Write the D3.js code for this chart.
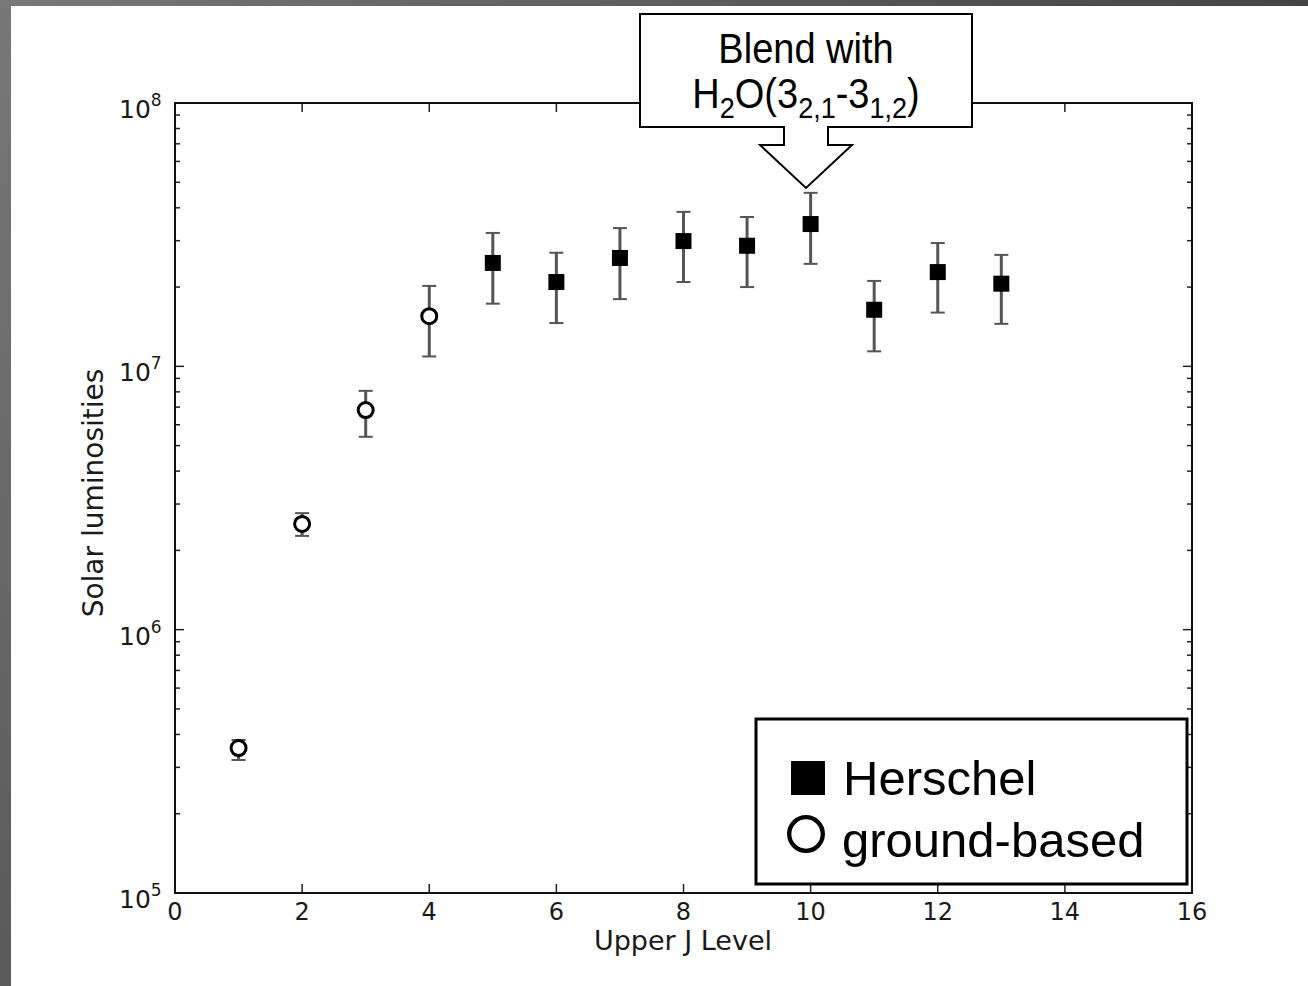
<!DOCTYPE html>
<html>
<head>
<meta charset="utf-8">
<script src="https://cdn.jsdelivr.net/npm/d3@7"></script>
<style>
  body { margin: 0; background: #fff; }
  svg { display: block; }
  .tick-label { font-family: "DejaVu Sans", sans-serif; fill: #1a1a1a; }
  .callout, .legend-text { font-family: "Liberation Sans", Arial, sans-serif; fill: #000; }
</style>
</head>
<body>
<div id="chart"></div>
<script>
// data
let hJ = [5, 6, 7, 8, 9, 10, 11, 12, 13];
let hVal = [2.47e7, 2.09e7, 2.58e7, 2.99e7, 2.87e7, 3.47e7, 1.64e7, 2.28e7, 2.06e7];
let hHi = [3.21e7, 2.70e7, 3.35e7, 3.86e7, 3.69e7, 4.56e7, 2.11e7, 2.94e7, 2.65e7];
let hLo = [1.73e7, 1.46e7, 1.80e7, 2.09e7, 2.00e7, 2.45e7, 1.14e7, 1.60e7, 1.45e7];

let gJ = [1, 2, 3, 4];
let gVal = [3.55e5, 2.52e6, 6.82e6, 1.55e7];
let gHi = [3.81e5, 2.77e6, 8.07e6, 2.02e7];
let gLo = [3.20e5, 2.27e6, 5.40e6, 1.09e7];

let xTicks = [0, 2, 4, 6, 8, 10, 12, 14, 16];
let yExp = [5, 6, 7, 8];

let W = 1308, H = 986;
let plotL = 175, plotR = 1192, plotT = 103, plotB = 893;

let svg = d3.select("#chart").append("svg")
    .attr("width", W)
    .attr("height", H);

// grey frame at left and top edges
let defs = svg.append("defs");
let gv = defs.append("linearGradient").attr("id", "gv").attr("x1", 0).attr("y1", 0).attr("x2", 0).attr("y2", 1);
gv.append("stop").attr("offset", "0%").attr("stop-color", "#787878");
gv.append("stop").attr("offset", "100%").attr("stop-color", "#5a5a5a");
let gh = defs.append("linearGradient").attr("id", "gh").attr("x1", 0).attr("y1", 0).attr("x2", 1).attr("y2", 0);
gh.append("stop").attr("offset", "0%").attr("stop-color", "#787878");
gh.append("stop").attr("offset", "100%").attr("stop-color", "#444");
svg.append("rect").attr("x", 0).attr("y", 0).attr("width", W).attr("height", 6).attr("fill", "url(#gh)");
svg.append("rect").attr("x", 0).attr("y", 0).attr("width", 11).attr("height", H).attr("fill", "url(#gv)");

let xScale = d3.scaleLinear().domain([0, 16]).range([plotL, plotR]);
let yScale = d3.scaleLog().domain([1e5, 1e8]).range([plotB, plotT]);

// minor log ticks
let minor = [];
for (let e = 5; e < 8; ++e) {
    for (let m = 2; m <= 9; ++m) minor.push(m * Math.pow(10, e));
}

let ticks = svg.append("g").attr("stroke", "#222").attr("stroke-width", 1.5);
for (let v of minor) {
    let y = yScale(v);
    ticks.append("line").attr("x1", plotL).attr("x2", plotL + 5).attr("y1", y).attr("y2", y);
    ticks.append("line").attr("x1", plotR).attr("x2", plotR - 5).attr("y1", y).attr("y2", y);
}
for (let e of yExp) {
    let y = yScale(Math.pow(10, e));
    ticks.append("line").attr("x1", plotL).attr("x2", plotL + 9).attr("y1", y).attr("y2", y);
    ticks.append("line").attr("x1", plotR).attr("x2", plotR - 9).attr("y1", y).attr("y2", y);
}
for (let t of xTicks) {
    let x = xScale(t);
    ticks.append("line").attr("x1", x).attr("x2", x).attr("y1", plotB).attr("y2", plotB - 9);
    ticks.append("line").attr("x1", x).attr("x2", x).attr("y1", plotT).attr("y2", plotT + 9);
}

// frame
svg.append("rect")
    .attr("x", plotL).attr("y", plotT)
    .attr("width", plotR - plotL).attr("height", plotB - plotT)
    .attr("fill", "none").attr("stroke", "#111").attr("stroke-width", 2);

// tick labels
svg.selectAll(".xlab").data(xTicks).enter()
    .append("text")
    .attr("class", "tick-label")
    .attr("x", (d) => xScale(d))
    .attr("y", plotB + 27)
    .attr("text-anchor", "middle")
    .attr("font-size", 24)
    .text((d) => d);

let ylab = svg.selectAll(".ylab").data(yExp).enter()
    .append("text")
    .attr("class", "tick-label")
    .attr("x", 119)
    .attr("y", (d) => yScale(Math.pow(10, d)) + 15)
    .attr("font-size", 25);
ylab.append("tspan").text("10");
ylab.append("tspan").attr("font-size", 17).attr("dy", -12).text((d) => d);

svg.append("text")
    .attr("class", "tick-label")
    .attr("x", 683).attr("y", 950)
    .attr("text-anchor", "middle")
    .attr("font-size", 27)
    .text("Upper J Level");

svg.append("text")
    .attr("class", "tick-label")
    .attr("transform", "translate(103,493) rotate(-90)")
    .attr("text-anchor", "middle")
    .attr("font-size", 28)
    .text("Solar luminosities");

// error bars
function errorBars(js, lo, hi) {
    let g = svg.append("g").attr("stroke", "#555").attr("stroke-width", 3);
    js.forEach(function(j, i) {
        let x = xScale(j);
        g.append("line").attr("x1", x).attr("x2", x).attr("y1", yScale(lo[i])).attr("y2", yScale(hi[i]));
        g.append("line").attr("x1", x - 7).attr("x2", x + 7).attr("y1", yScale(lo[i])).attr("y2", yScale(lo[i])).attr("stroke-width", 2);
        g.append("line").attr("x1", x - 7).attr("x2", x + 7).attr("y1", yScale(hi[i])).attr("y2", yScale(hi[i])).attr("stroke-width", 2);
    });
}
errorBars(hJ, hLo, hHi);
errorBars(gJ, gLo, gHi);

svg.selectAll(".sq").data(hJ).enter()
    .append("rect")
    .attr("x", (d) => xScale(d) - 8)
    .attr("y", (d, i) => yScale(hVal[i]) - 8)
    .attr("width", 16).attr("height", 16)
    .attr("fill", "#000");

svg.selectAll(".circ").data(gJ).enter()
    .append("circle")
    .attr("cx", (d) => xScale(d))
    .attr("cy", (d, i) => yScale(gVal[i]))
    .attr("r", 7.5)
    .attr("fill", "#fff")
    .attr("stroke", "#000")
    .attr("stroke-width", 3);

// callout
svg.append("path")
    .attr("d", "M640,14 L972,14 L972,127 L828,127 L828,145 L852,145 L806,188 L760,145 L784,145 L784,127 L640,127 Z")
    .attr("fill", "#fff")
    .attr("stroke", "#000")
    .attr("stroke-width", 2);

svg.append("text")
    .attr("class", "callout")
    .attr("transform", "translate(806,63) scale(1,1.1)")
    .attr("text-anchor", "middle")
    .attr("font-size", 38)
    .text("Blend with");

let h2o = svg.append("text")
    .attr("class", "callout")
    .attr("transform", "translate(806,108) scale(1,1.1)")
    .attr("text-anchor", "middle")
    .attr("font-size", 38);
h2o.append("tspan").text("H");
h2o.append("tspan").attr("font-size", 27).attr("dy", 9).text("2");
h2o.append("tspan").attr("dy", -9).text("O(3");
h2o.append("tspan").attr("font-size", 27).attr("dy", 9).text("2,1");
h2o.append("tspan").attr("dy", -9).text("-3");
h2o.append("tspan").attr("font-size", 27).attr("dy", 9).text("1,2");
h2o.append("tspan").attr("dy", -9).text(")");

// legend
svg.append("rect")
    .attr("x", 756).attr("y", 719)
    .attr("width", 431).attr("height", 165)
    .attr("fill", "#fff").attr("stroke", "#000").attr("stroke-width", 3);
svg.append("rect")
    .attr("x", 791).attr("y", 761)
    .attr("width", 34).attr("height", 34)
    .attr("fill", "#000");
svg.append("circle")
    .attr("cx", 806).attr("cy", 834)
    .attr("r", 16.8)
    .attr("fill", "none").attr("stroke", "#000").attr("stroke-width", 4.3);
svg.append("text")
    .attr("class", "legend-text")
    .attr("x", 843).attr("y", 795)
    .attr("font-size", 49)
    .text("Herschel");
svg.append("text")
    .attr("class", "legend-text")
    .attr("x", 842).attr("y", 857)
    .attr("font-size", 49)
    .text("ground-based");
</script>
</body>
</html>
